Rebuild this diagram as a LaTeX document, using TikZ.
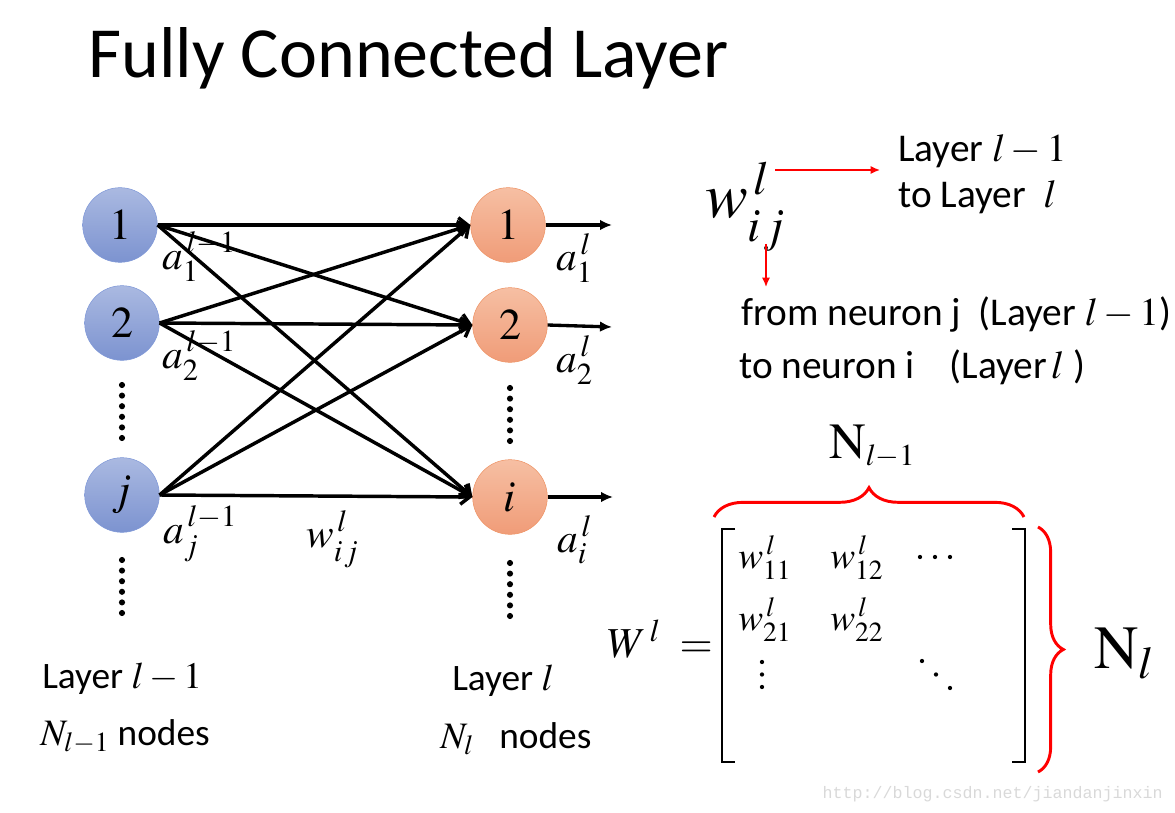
\documentclass[tikz,border=0pt]{standalone}
\usepackage{mathptmx}
\usepackage[no-math]{fontspec}
\setmainfont{Carlito}
\newfontfamily\wmfont{Liberation Mono}
\usetikzlibrary{arrows.meta,decorations.pathreplacing}

\definecolor{bluetop}{HTML}{AAB9E1}
\definecolor{bluebot}{HTML}{7C93D0}
\definecolor{blueline}{HTML}{7F98D8}
\definecolor{orangetop}{HTML}{F6BFA3}
\definecolor{orangebot}{HTML}{F09C78}
\definecolor{orangeline}{HTML}{EE9466}

\begin{document}
\begin{tikzpicture}[x=0.75pt,y=-0.75pt,
  lnode/.style={circle,minimum size=56pt,inner sep=0pt,draw=blueline,
    top color=bluetop,bottom color=bluebot,font=\fontsize{33}{36}\selectfont},
  rnode/.style={circle,minimum size=56pt,inner sep=0pt,draw=orangeline,
    top color=orangetop,bottom color=orangebot,font=\fontsize{33}{36}\selectfont},
  conn/.style={line width=2.6pt,-{Straight Barb[length=7pt,width=11pt]}},
  outarr/.style={line width=2.5pt,-{Latex[length=9pt,width=8pt]}},
  redarr/.style={red,line width=1.1pt,-{Latex[length=7pt,width=6pt]}},
  redbrace/.style={red,line width=2.2pt,decorate},
  act/.style={anchor=base west,font=\fontsize{31}{34}\selectfont,inner sep=0pt},
  txt/.style={anchor=base west,font=\fontsize{29.5}{32}\selectfont,inner sep=0pt},
  lab/.style={anchor=base west,font=\fontsize{28}{30}\selectfont,inner sep=0pt},
  ent/.style={anchor=base west,font=\fontsize{28}{32}\selectfont,inner sep=0pt}]
 \useasboundingbox (0,0) rectangle (1175,813);

 % title
 \node[anchor=base west,inner sep=0pt,font=\fontsize{54}{60}\selectfont] (title) at (88,78) {Fully Connected Layer};

 % the two layers
 \node[lnode] (l1) at (120,225) {$1$};
 \node[lnode] (l2) at (122,323) {$2$};
 \node[lnode] (lj) at (122,495) {$j$};
 \node[rnode] (r1) at (508,225) {$1$};
 \node[rnode] (r2) at (510,325) {$2$};
 \node[rnode] (ri) at (510,497) {$i$};

 \foreach \a in {l1,l2,lj}
  \foreach \b in {r1,r2,ri}
   \draw[conn] (\a.east) -- (\b.west);

 \coordinate (o1) at (612,225);
 \coordinate (o2) at (612,327);
 \coordinate (oi) at (613,497);
 \foreach \b/\o in {r1/o1,r2/o2,ri/oi}
  \draw[outarr] (\b.east) -- (\o);

 % dots
 \foreach \k in {0,...,5} {
  \fill (122,{385+10.6*\k}) circle (2.3pt);
  \fill (122,{560+10.6*\k}) circle (2.3pt);
  \fill (510,{388+10.6*\k}) circle (2.3pt);
  \fill (510,{563+10.6*\k}) circle (2.3pt);
 }

 % activations and weight
 \node[act] (a1) at (162,269) {$a_{1}^{\,l-1}$};
 \node[act] (a2) at (162,368) {$a_{2}^{\,l-1}$};
 \node[act] (aj) at (163,543) {$a_{j}^{\,l-1}$};
 \node[act] (wij) at (306,547) {$w_{\mathstrut i\mkern1mu j}^{\,l}$};
 \node[act] (b1) at (556,270) {$a_{1}^{\,l}$};
 \node[act] (b2) at (556,372) {$a_{2}^{\,l}$};
 \node[act] (bi) at (557,552) {$a_{i}^{\,l}$};

 % layer captions
 \node[lab] (capl1) at (42,688) {Layer $l-1$};
 \node[lab] (capn1) at (40,745) {$N_{l-1}$ nodes};
 \node[lab] (capl2) at (452,690) {Layer $l$};
 \node[lab] (capn2) at (440,748) {$N_{l}$\ \ \ nodes};

 % meaning of the index
 \node[anchor=base west,inner sep=0pt,font=\fontsize{48}{52}\selectfont] (wbig) at (705,218) {$w_{\mathstrut i\mkern1mu j}^{\,l}$};
 \node[txt] (lfrom) at (898,162) {Layer $l-1$};
 \node[txt] (lto) at (898,208) {to Layer \ $l$};
 \node[txt] (nfrom) at (741,325) {from neuron j \ (Layer $l-1$)};
 \node[txt] (nto) at (739,378) {to neuron i\hspace{26pt}(Layer$\,l$ )};
 \coordinate (ra) at (775,170);
 \coordinate (rb) at (880,170);
 \coordinate (rc) at (766,244);
 \coordinate (rd) at (766,287);
 \draw[redarr] (ra) -- (rb);
 \draw[redarr] (rc) -- (rd);

 % weight matrix
 \node[anchor=base east,inner sep=0pt,font=\fontsize{32}{36}\selectfont] (wmat) at (713,657) {$W^{\,l}\;=$};
 \draw[line width=1.5pt] (735,529) -- (722,529) -- (722,762) -- (735,762);
 \draw[line width=1.5pt] (1012,529) -- (1025,529) -- (1025,762) -- (1012,762);
 \node[ent] (m11) at (738,568) {$w_{11}^{\,l}$};
 \node[ent] (m12) at (830,568) {$w_{12}^{\,l}$};
 \node[ent] (m21) at (738,630) {$w_{21}^{\,l}$};
 \node[ent] (m22) at (830,630) {$w_{22}^{\,l}$};
 \foreach \k in {0,1,2} {
  \fill ({920+15*\k},557) circle (1.6pt);
  \fill (762,{662+12.5*\k}) circle (1.6pt);
  \fill ({922+14*\k},{661+13.5*\k}) circle (1.6pt);
 }

 % braces
 \coordinate (bt1) at (714,517);
 \coordinate (bt2) at (1024,517);
 \coordinate (br1) at (1038,527);
 \coordinate (br2) at (1038,772);
 \draw[redbrace,decoration={brace,amplitude=22pt}] (bt1) -- (bt2);
 \draw[redbrace,decoration={brace,amplitude=19pt}] (br1) -- (br2);
 \node[anchor=base west,inner sep=0pt,font=\fontsize{38}{42}\selectfont] (ncol) at (829,458) {$\mathrm{N}_{\scriptscriptstyle l-1}$};
 \node[anchor=base west,inner sep=0pt,font=\fontsize{46}{50}\selectfont] (nrow) at (1094,668) {$\mathrm{N}_{l}$};

 % watermark
 \node[anchor=base east,inner sep=0pt,text=gray!30,font=\wmfont\fontsize{12.5}{14}\selectfont] (wm) at (1163,798) {http://blog.csdn.net/jiandanjinxin};
\end{tikzpicture}
\end{document}
